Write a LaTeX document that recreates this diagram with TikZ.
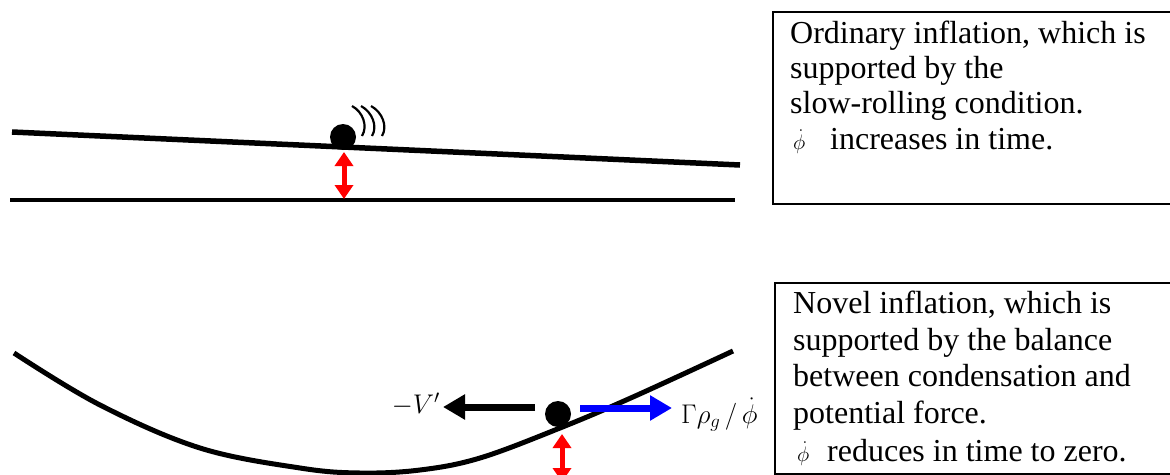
\RequirePackage{fix-cm}
\documentclass[tikz,border=0pt]{standalone}
\usepackage{fontspec}
\setmainfont{Liberation Serif}
\usetikzlibrary{arrows.meta}
\begin{document}
\begin{tikzpicture}[x=1pt,y=-1pt,
  txt/.style={anchor=base west, inner sep=0pt, font=\fontsize{32}{36}\selectfont},
  phidot/.style={anchor=base west, inner sep=0pt, font=\fontsize{21}{24}\selectfont},
  lbl/.style={inner sep=0pt, font=\fontsize{27}{30}\selectfont},
  box/.style={draw, line width=1.5pt, anchor=north west, inner sep=0pt},
  ground/.style={line width=5pt, line join=round},
  ball/.style={circle, fill=black, inner sep=0pt, minimum size=26pt},
  redarr/.style={red, line width=5pt, {Triangle[length=14pt,width=18pt]}-{Triangle[length=14pt,width=18pt]}},
  force/.style={line width=7pt, -{Triangle[length=22pt,width=24pt]}},
  wave/.style={line width=2.2pt}]
\useasboundingbox (0,0) rectangle (1170,474);

% ---------- top: ordinary inflation ----------
\coordinate (a1) at (12,132);
\coordinate (a2) at (740,165);
\coordinate (h1) at (10,200);
\coordinate (h2) at (735,200);
\draw[ground, line width=5.5pt] (a1) -- (a2);
\draw[ground, line width=4pt] (h1) -- (h2);
\node[ball] (b1) at (343,137) {};
\coordinate (r1t) at (344,152);
\coordinate (r1b) at (344,199);
\draw[redarr] (r1t) -- (r1b);
% sound waves
\coordinate (w1a) at (352,106); \coordinate (w1b) at (362,136);
\coordinate (w2a) at (361,106); \coordinate (w2b) at (372,136);
\coordinate (w3a) at (371,106); \coordinate (w3b) at (382,136);
\draw[wave] (w1a) .. controls (363,112) and (368,126) .. (w1b);
\draw[wave] (w2a) .. controls (372,112) and (378,126) .. (w2b);
\draw[wave] (w3a) .. controls (382,112) and (388,126) .. (w3b);

% box 1
\node[box, minimum width=402pt, minimum height=192pt] (box1) at (772,11) {};
\node[txt] (t11) at (790,43) {Ordinary inflation, which is};
\node[txt] (t12) at (790,78) {supported by the};
\node[txt] (t13) at (790,113) {slow-rolling condition.};
\node[phidot] (p14) at (793,149) {$\dot\phi$};
\node[txt] (t14) at (830,149) {increases in time.};

% ---------- bottom: novel inflation ----------
\draw[ground] plot[smooth, tension=0.6] coordinates {(14,353) (100,405) (200,448) (300,468) (360,473) (420,470) (480,458) (560,428) (633,397) (733,351)};
\node[ball] (b2) at (558,414) {};
\coordinate (r2t) at (562,434);
\coordinate (r2b) at (562,482);
\draw[redarr] (r2t) -- (r2b);
\coordinate (fk1) at (535,407);
\coordinate (fk2) at (443,407);
\draw[force] (fk1) -- (fk2);
\coordinate (fb1) at (580,408);
\coordinate (fb2) at (672,408);
\draw[force, blue] (fb1) -- (fb2);
\node[lbl, anchor=base east] (lv) at (440,413) {$-V'$};
\node[lbl, anchor=base west] (lg) at (681,423) {$\Gamma\rho_g\,/\,\dot\phi$};

% box 2
\node[box, minimum width=402pt, minimum height=191pt] (box2) at (774,282) {};
\node[txt] (t21) at (793,313) {Novel inflation, which is};
\node[txt] (t22) at (793,350) {supported by the balance};
\node[txt] (t23) at (793,386.5) {between condensation and};
\node[txt] (t24) at (793,423) {potential force.};
\node[phidot] (p25) at (797,461) {$\dot\phi$};
\node[txt] (t25) at (827,461) {reduces in time to zero.};
\end{tikzpicture}
\end{document}
